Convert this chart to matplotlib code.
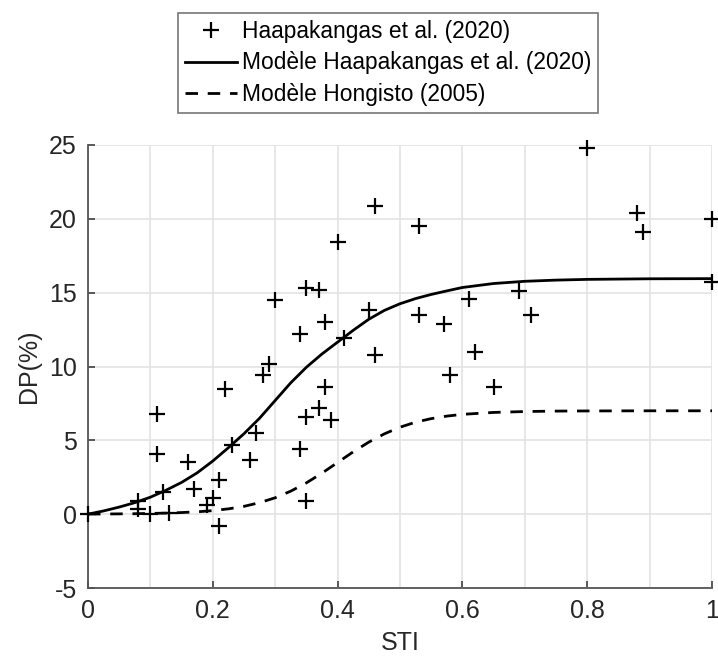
import matplotlib
matplotlib.use("Agg")
import matplotlib.pyplot as plt

# Measured data (Haapakangas et al. 2020)
sti_data = [0.00, 0.08, 0.08, 0.10, 0.11, 0.11, 0.12, 0.13, 0.16, 0.17,
            0.19, 0.20, 0.21, 0.21, 0.22, 0.23, 0.26, 0.27, 0.28, 0.29,
            0.30, 0.34, 0.34, 0.35, 0.35, 0.35, 0.37, 0.37, 0.38, 0.38,
            0.39, 0.40, 0.41, 0.45, 0.46, 0.46, 0.53, 0.53, 0.57, 0.58,
            0.61, 0.62, 0.65, 0.69, 0.71, 0.80, 0.88, 0.89, 1.00, 1.00]
dp_data = [0.0, 0.9, 0.35, 0.0, 6.8, 4.1, 1.5, 0.1, 3.5, 1.7,
           0.6, 1.1, 2.3, -0.8, 8.5, 4.7, 3.7, 5.5, 9.4, 10.2,
           14.5, 12.2, 4.4, 15.3, 6.6, 0.9, 15.2, 7.2, 13.0, 8.6,
           6.4, 18.4, 11.9, 13.8, 20.9, 10.8, 19.5, 13.5, 12.9, 9.4,
           14.6, 11.0, 8.6, 15.1, 13.5, 24.8, 20.4, 19.1, 20.0, 15.7]

# Model curves
sti_model = [0.000, 0.025, 0.050, 0.075, 0.100, 0.125, 0.150, 0.175, 0.200,
             0.225, 0.250, 0.275, 0.300, 0.325, 0.350, 0.375, 0.400, 0.425,
             0.450, 0.475, 0.500, 0.525, 0.550, 0.575, 0.600, 0.650, 0.700,
             0.750, 0.800, 0.900, 1.000]
dp_haapakangas = [0.00, 0.22, 0.48, 0.78, 1.15, 1.62, 2.15, 2.80, 3.60,
                  4.50, 5.45, 6.50, 7.70, 8.90, 9.95, 10.85, 11.65, 12.45,
                  13.20, 13.80, 14.25, 14.60, 14.88, 15.12, 15.35, 15.62, 15.77,
                  15.85, 15.90, 15.94, 15.95]
dp_hongisto = [0.01, 0.01, 0.02, 0.03, 0.05, 0.07, 0.11, 0.16, 0.24,
               0.36, 0.53, 0.78, 1.11, 1.56, 2.12, 2.78, 3.50, 4.22,
               4.88, 5.44, 5.89, 6.23, 6.47, 6.64, 6.76, 6.89, 6.95,
               6.98, 6.99, 7.00, 7.00]

labels = ["Haapakangas et al. (2020)",
          "Modèle Haapakangas et al. (2020)",
          "Modèle Hongisto (2005)"]

plt.rcParams['font.family'] = ['Liberation Sans', 'DejaVu Sans']
plt.rcParams['axes.unicode_minus'] = False

fig = plt.figure(figsize=(7.18, 6.66), dpi=100)
ax = fig.add_axes([88/718, 78/666, (712-88)/718, (588-145)/666])

h1, = ax.plot(sti_data, dp_data, linestyle='none', marker='+', color='black',
              markersize=12, markeredgewidth=1.6, zorder=3, clip_on=False)
h2, = ax.plot(sti_model, dp_haapakangas, color='black', linewidth=2.0, zorder=2)
h3, = ax.plot(sti_model, dp_hongisto, color='black', linewidth=2.0,
              linestyle=(0, (4.5, 3.5)), zorder=2)

ax.set_xlim(0, 1)
ax.set_ylim(-5, 25)
ax.set_xticks([0, 0.2, 0.4, 0.6, 0.8, 1])
ax.set_xticklabels(['0', '0.2', '0.4', '0.6', '0.8', '1'])
ax.set_yticks([-5, 0, 5, 10, 15, 20, 25])
ax.set_xticks([0.1, 0.3, 0.5, 0.7, 0.9], minor=True)
ax.grid(True, which='both', color='#e3e3e3', linewidth=1.2, zorder=0)
ax.set_axisbelow(True)
ax.tick_params(which='minor', length=0)
ax.tick_params(which='major', direction='in', length=5, width=1.2,
               colors='#404040', labelsize=18, labelcolor='#262626', pad=8)

for s in ['top', 'right']:
    ax.spines[s].set_visible(False)
for s in ['left', 'bottom']:
    ax.spines[s].set_color('#555555')
    ax.spines[s].set_linewidth(1.3)

ax.set_xlabel('STI', fontsize=18, color='#262626', labelpad=6)
ax.set_ylabel('DP(%)', fontsize=18, color='#262626', labelpad=6)

leg = fig.legend([h1, h2, h3], labels, loc='upper center',
                 bbox_to_anchor=(388/718, 1 - 13/666), fontsize=16.4,
                 frameon=True, fancybox=False, handlelength=2.3,
                 handletextpad=0.2, labelspacing=0.38, borderpad=0.3,
                 borderaxespad=0)
leg.get_frame().set_edgecolor('#555555')
leg.get_frame().set_linewidth(1.2)

fig.savefig('out.png', dpi=100)
